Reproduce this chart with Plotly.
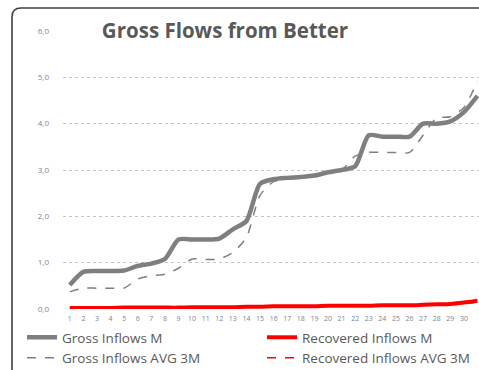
import plotly.graph_objects as go

# Monthly series (millions)
months = list(range(1, 32))
month_labels = [str(m) for m in months]

gross_m = [0.52, 0.80, 0.82, 0.82, 0.83, 0.93, 0.98, 1.08, 1.50, 1.50,
           1.50, 1.52, 1.72, 1.90, 2.70, 2.80, 2.83, 2.85, 2.88, 2.95,
           3.00, 3.08, 3.75, 3.72, 3.72, 3.72, 4.00, 4.00, 4.05, 4.25,
           4.60]
gross_avg3 = [0.37, 0.45, 0.45, 0.45, 0.45, 0.65, 0.72, 0.75, 0.88, 1.08,
              1.07, 1.08, 1.22, 1.55, 2.45, 2.75, 2.80, 2.83, 2.87, 2.93,
              3.00, 3.30, 3.38, 3.38, 3.38, 3.38, 3.75, 4.12, 4.15, 4.35,
              4.92]
recovered_m = [0.02, 0.02, 0.02, 0.02, 0.03, 0.03, 0.03, 0.03, 0.03, 0.04,
               0.04, 0.04, 0.04, 0.05, 0.05, 0.06, 0.06, 0.06, 0.06, 0.07,
               0.07, 0.07, 0.07, 0.08, 0.08, 0.08, 0.09, 0.10, 0.11, 0.14,
               0.18]
recovered_avg3 = [0.01, 0.02, 0.02, 0.02, 0.02, 0.03, 0.03, 0.03, 0.03, 0.03,
                  0.04, 0.04, 0.04, 0.04, 0.05, 0.05, 0.05, 0.06, 0.06, 0.06,
                  0.07, 0.07, 0.07, 0.07, 0.08, 0.08, 0.08, 0.09, 0.10, 0.12,
                  0.15]

W, H = 479, 370
ML, MR, MT, MB = 63, 0, 31, 61
PW, PH = W - ML - MR, H - MT - MB

GRAY = "#7f7f7f"
RED = "#ff0000"
TEXT = "#595959"
TICK = "#7b8494"
FONT = "Open Sans, sans-serif"


def px_to_paper(x, y):
    return (x - ML) / PW, (H - MB - y) / PH


fig = go.Figure()
fig.add_trace(go.Scatter(x=months, y=gross_m, name="Gross Inflows M", legend="legend",
                         mode="lines", line=dict(color=GRAY, width=4.5, shape="spline", smoothing=0.7)))
fig.add_trace(go.Scatter(x=months, y=gross_avg3, name="Gross Inflows AVG 3M", legend="legend",
                         mode="lines", line=dict(color=GRAY, width=1.5, dash="dash", shape="spline", smoothing=0.7)))
fig.add_trace(go.Scatter(x=months, y=recovered_m, name="Recovered Inflows M", legend="legend2",
                         mode="lines", line=dict(color=RED, width=4, shape="spline", smoothing=0.7)))
fig.add_trace(go.Scatter(x=months, y=recovered_avg3, name="Recovered Inflows AVG 3M", legend="legend2",
                         mode="lines", line=dict(color=RED, width=1.5, dash="dash", shape="spline", smoothing=0.7)))

# chart frame with a rounded top-left corner, running off the page edges
r = 9
x0, y0 = px_to_paper(12, 8)
xr, _ = px_to_paper(12 + r, 8)
_, yr = px_to_paper(12, 8 + r)
xe, _ = px_to_paper(W + 20, 8)
_, ye = px_to_paper(12, H + 20)
frame = (f"M {xe},{y0} L {xr},{y0} Q {x0},{y0} {x0},{yr} L {x0},{ye}")
fig.add_shape(type="path", path=frame, xref="paper", yref="paper",
              line=dict(color="#3f3f3f", width=1.6), layer="above")

legend_style = dict(orientation="v", xanchor="left", yanchor="top",
                    tracegroupgap=0, itemwidth=30,
                    font=dict(family=FONT, size=13.5, color=TEXT),
                    bgcolor="rgba(0,0,0,0)")
l1x, l1y = px_to_paper(22, 322)
l2x, _ = px_to_paper(262, 322)

fig.update_layout(
    width=W, height=H,
    margin=dict(l=ML, r=MR, t=MT, b=MB, pad=0, autoexpand=False),
    paper_bgcolor="white", plot_bgcolor="white",
    separators=",.",
    font=dict(family=FONT, color=TEXT),
    title=dict(text="<b>Gross Flows from Better</b>", x=225 / W, xanchor="center",
               y=1 - 31 / H, yanchor="middle",
               font=dict(family=FONT, size=20.5, color=TEXT)),
    showlegend=True,
    legend=dict(x=l1x, y=l1y, **legend_style),
    legend2=dict(x=l2x, y=l1y, **legend_style),
    xaxis=dict(range=[0.5, 0.5 + (W - 64.2) / 13.55], tickmode="array",
               tickvals=months, ticktext=month_labels, showgrid=False,
               zeroline=False, showline=False, ticks="",
               ticklabelstandoff=4,
               tickfont=dict(family=FONT, size=7, color=TICK)),
    yaxis=dict(range=[0, 6], dtick=1, tickformat=".1f", showgrid=True,
               gridcolor="#c4c4c4", griddash="dot", gridwidth=1,
               zeroline=False, showline=False, ticks="",
               ticklabelstandoff=13,
               tickfont=dict(family=FONT, size=8, color=TICK)),
)

fig.write_html("out.html")
